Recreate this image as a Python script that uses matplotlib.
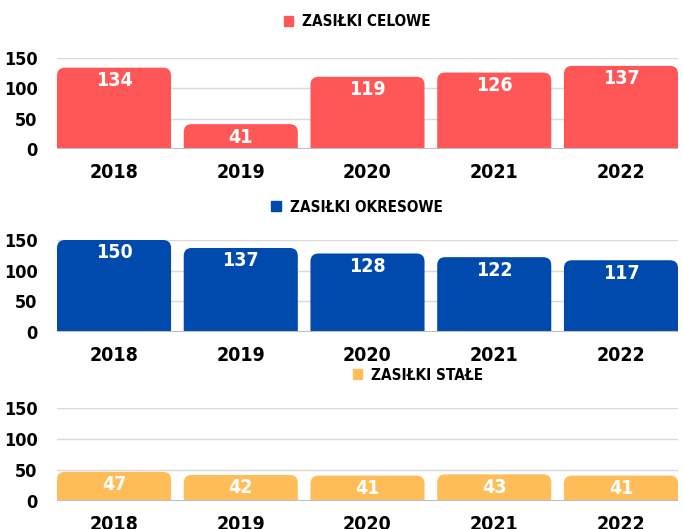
import matplotlib
matplotlib.use("Agg")
import matplotlib.pyplot as plt
from matplotlib import font_manager
from matplotlib.patches import FancyBboxPatch, Patch

years = ["2018", "2019", "2020", "2021", "2022"]
celowe = [134, 41, 119, 126, 137]
okresowe = [150, 137, 128, 122, 117]
stale = [47, 42, 41, 43, 41]
series_names = ["ZASIŁKI CELOWE", "ZASIŁKI OKRESOWE", "ZASIŁKI STAŁE"]
yticks = [0, 50, 100, 150]

# look for a condensed / narrow bold face
cond_file = None
prefs = []
for f in font_manager.fontManager.ttflist:
    n = (f.fname or "").lower()
    if ("condensed" in n or "narrow" in n) and "bold" in n and "italic" not in n and "oblique" not in n:
        score = 0
        if "semibold" in n or "extrabold" in n:
            score += 1
        prefs.append((score, f.fname))
prefs.sort()
if prefs:
    cond_file = prefs[0][1]

if cond_file:
    FP = lambda size: font_manager.FontProperties(fname=cond_file, size=size)
    S_YEAR, S_TICK, S_VAL, S_LEG = 14, 13, 14, 11
else:
    FP = lambda size: font_manager.FontProperties(family='DejaVu Sans', weight='bold', size=size)
    S_YEAR, S_TICK, S_VAL, S_LEG = 12, 11, 12, 9.5

W, H = 683, 529
fig = plt.figure(figsize=(W / 100, H / 100), dpi=100)

colors = ["#FF5757", "#004AAD", "#FFBD59"]
data = [celowe, okresowe, stale]
panels = [(58, 149), (240, 332), (408, 501)]
legend_pos = [(357, 22), (357, 207), (418, 375)]

x0, x1 = 57, 678
for k in range(3):
    top, bot = panels[k]
    ax = fig.add_axes([x0 / W, 1 - bot / H, (x1 - x0) / W, (bot - top) / H])
    ax.set_xlim(-0.45, 4.45)
    ax.set_ylim(0, 150)
    xs = list(range(len(years)))
    bars = ax.bar(xs, data[k], width=0.9, color=colors[k])
    px_per_x = (x1 - x0) / 4.9
    px_per_y = (bot - top) / 150
    r_px = 8
    rx = r_px / px_per_x
    ry = r_px / px_per_y
    for b in bars:
        bx, bw, bh = b.get_x(), b.get_width(), b.get_height()
        b.set_visible(False)
        p = FancyBboxPatch((bx, -20), bw, bh + 20,
                           boxstyle=f"round,pad=0,rounding_size={rx}",
                           mutation_aspect=ry / rx,
                           facecolor=colors[k], edgecolor='none', zorder=3)
        ax.add_patch(p)
        ax.text(bx + bw / 2, bh - 13 / px_per_y, str(int(bh)), ha='center', va='center',
                color='white', fontproperties=FP(S_VAL), zorder=4)
    for yv in [50, 100, 150]:
        ax.axhline(yv, color='#D9D9D9', lw=1, zorder=1)
    ax.axhline(0, color='#BFBFBF', lw=1.5, zorder=5)
    for s in ax.spines.values():
        s.set_visible(False)
    ax.set_yticks(yticks)
    ax.set_yticklabels([str(v) for v in yticks])
    for t in ax.get_yticklabels():
        t.set_fontproperties(FP(S_TICK))
    ax.set_xticks(xs)
    ax.set_xticklabels(years)
    for t in ax.get_xticklabels():
        t.set_fontproperties(FP(S_YEAR))
    ax.tick_params(length=0)
    ax.tick_params(axis='y', pad=14)
    ax.tick_params(axis='x', pad=10)
    lx, ly = legend_pos[k]
    fig.legend(handles=[Patch(color=colors[k], label=series_names[k])],
               loc='center', bbox_to_anchor=(lx / W, 1 - ly / H), frameon=False,
               handlelength=0.6, handleheight=0.6, handletextpad=0.6,
               prop=FP(S_LEG))

fig.savefig("out.png", dpi=100)
